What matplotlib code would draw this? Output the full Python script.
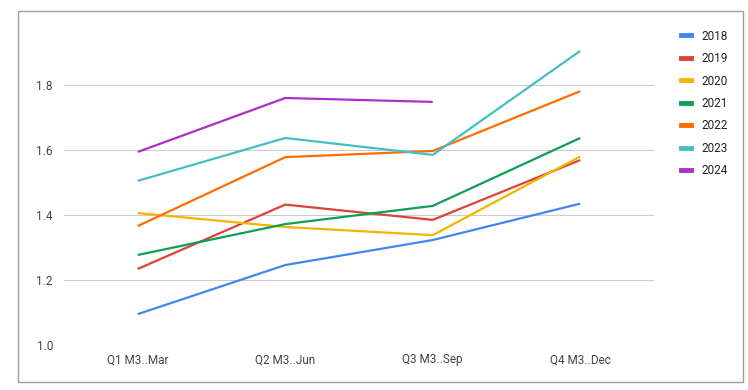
import matplotlib
matplotlib.use("Agg")
import matplotlib.pyplot as plt
from matplotlib.patches import Rectangle
from matplotlib.lines import Line2D

plt.rcParams['font.family'] = ['Roboto', 'DejaVu Sans']

categories = ["Q1 M3..Mar", "Q2 M3..Jun", "Q3 M3..Sep", "Q4 M3..Dec"]
s2018 = [1.095, 1.246, 1.323, 1.435]
s2019 = [1.234, 1.432, 1.385, 1.569]
s2020 = [1.406, 1.363, 1.338, 1.580]
s2021 = [1.277, 1.372, 1.428, 1.637]
s2022 = [1.366, 1.578, 1.597, 1.781]
s2023 = [1.505, 1.637, 1.585, 1.905]
s2024 = [1.594, 1.760, 1.748]
years = ["2018", "2019", "2020", "2021", "2022", "2023", "2024"]
series = [s2018, s2019, s2020, s2021, s2022, s2023, s2024]
colors = ["#4285F4", "#DB4437", "#F4B400", "#0F9D58", "#FF6D01", "#46BDC6", "#AB30C4"]
yticks = [1.0, 1.2, 1.4, 1.6, 1.8]

fig = plt.figure(figsize=(7.48, 3.90), dpi=100)
W, H = 748, 390
fig.patches.append(Rectangle((18 / W, 1 - 382 / H), (743 - 18) / W, (382 - 11) / H,
                             transform=fig.transFigure, fill=False,
                             edgecolor="#9e9e9e", linewidth=1.0))
ax = fig.add_axes([64 / W, 1 - 345 / H, (654 - 64) / W, (345 - 20) / H])

x = list(range(len(categories)))
handles = []
for vals, yr, c in zip(series, years, colors):
    ax.plot(x[:len(vals)], vals, color=c, linewidth=1.6, solid_capstyle='butt')
    handles.append(Line2D([0], [0], color=c, linewidth=3.5))

ax.set_xlim(-0.5, 3.5)
ax.set_ylim(1.0, 2.0)
ax.set_yticks(yticks)
ax.set_yticklabels([f"{v:.1f}" for v in yticks])
ax.set_xticks(x)
ax.set_xticklabels(categories)
ax.yaxis.grid(True, color="#cccccc", linewidth=0.8)
ax.set_axisbelow(True)
for s in ax.spines.values():
    s.set_visible(False)
ax.tick_params(axis='both', length=0, labelsize=8.5, colors="#444444")
ax.tick_params(axis='y', pad=8)
ax.tick_params(axis='x', pad=6)

fig.legend(handles, years, loc='upper left', bbox_to_anchor=(670 / W, 1 - 19 / H),
           frameon=False, handlelength=0.9, handletextpad=0.9, labelspacing=0.8,
           fontsize=8.5, labelcolor="#222222")

fig.savefig("out.png", dpi=100)
